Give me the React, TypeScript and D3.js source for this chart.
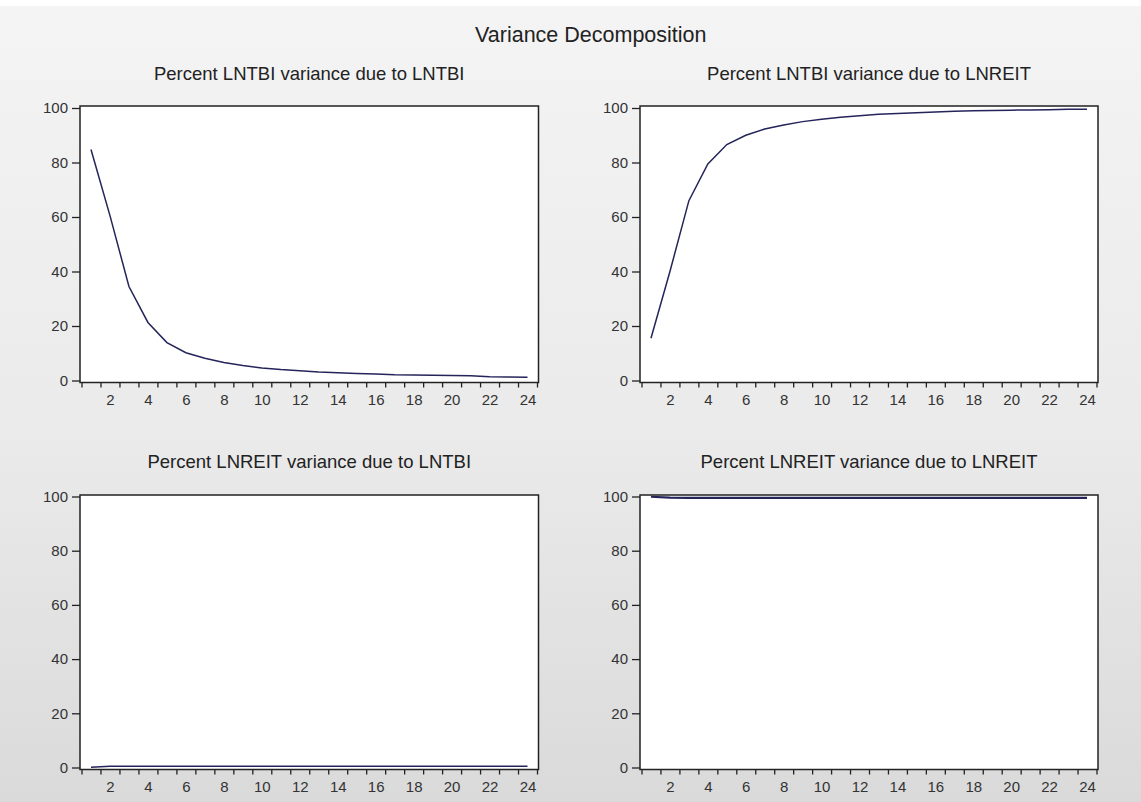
import { useEffect, useRef } from 'react';
import * as d3 from 'd3';

const W = 1141;
const H = 802;
const FONT = '"Liberation Sans", Arial, sans-serif';
const LINE_COLOR = '#24245a';

const periods = d3.range(1, 25);
const yTickValues = [0, 20, 40, 60, 80, 100];
const xLabelValues = [2, 4, 6, 8, 10, 12, 14, 16, 18, 20, 22, 24];

const tbiDueTbi = [84.8, 60.5, 34.5, 21.3, 13.9, 10.2, 8.2, 6.6, 5.5, 4.6, 4.0, 3.6, 3.1, 2.8, 2.6, 2.4, 2.1, 2.0, 1.9, 1.8, 1.7, 1.4, 1.3, 1.2];
const tbiDueReit = [15.5, 40.0, 66.0, 79.5, 86.6, 90.0, 92.3, 93.8, 95.0, 95.9, 96.6, 97.2, 97.7, 98.0, 98.3, 98.5, 98.8, 99.0, 99.1, 99.2, 99.3, 99.4, 99.5, 99.5];
const reitDueTbi = [0.1, 0.45, 0.5, 0.5, 0.5, 0.5, 0.5, 0.5, 0.5, 0.5, 0.5, 0.5, 0.5, 0.5, 0.5, 0.5, 0.5, 0.5, 0.5, 0.5, 0.5, 0.5, 0.5, 0.5];
const reitDueReit = [99.9, 99.55, 99.5, 99.5, 99.5, 99.5, 99.5, 99.5, 99.5, 99.5, 99.5, 99.5, 99.5, 99.5, 99.5, 99.5, 99.5, 99.5, 99.5, 99.5, 99.5, 99.5, 99.5, 99.5];

const panelTitles = [
  'Percent LNTBI variance due to LNTBI',
  'Percent LNTBI variance due to LNREIT',
  'Percent LNREIT variance due to LNTBI',
  'Percent LNREIT variance due to LNREIT',
];
const panelSeries = [tbiDueTbi, tbiDueReit, reitDueTbi, reitDueReit];

// frame boxes
const COLS = [
  { left: 80, right: 538.5 },
  { left: 640, right: 1098 },
];
const ROWS = [
  { top: 106, bottom: 382.5, y0: 380.5, y100: 108, titleY: 80 },
  { top: 495, bottom: 769.5, y0: 767.5, y100: 496.5, titleY: 468 },
];

export default function App() {
  const svgRef = useRef<SVGSVGElement>(null);

  useEffect(() => {
    const svg = d3.select(svgRef.current);
    svg.selectAll('*').remove();

    const defs = svg.append('defs');
    const grad = defs
      .append('linearGradient')
      .attr('id', 'bg')
      .attr('x1', 0).attr('y1', 0).attr('x2', 0).attr('y2', 1);
    grad.append('stop').attr('offset', '0%').attr('stop-color', '#f4f4f4');
    grad.append('stop').attr('offset', '55%').attr('stop-color', '#eaeaea');
    grad.append('stop').attr('offset', '100%').attr('stop-color', '#dadada');

    svg.append('rect').attr('width', W).attr('height', H).attr('fill', '#ffffff');
    svg.append('rect').attr('x', 0).attr('y', 6).attr('width', W).attr('height', H - 6).attr('fill', 'url(#bg)');

    svg
      .append('text')
      .attr('x', 706.5)
      .attr('y', 41.5)
      .attr('text-anchor', 'end')
      .attr('font-family', FONT)
      .attr('font-size', 21.5)
      .attr('fill', '#222')
      .text('Variance Decomposition');

    panelSeries.forEach((values, i) => {
      const col = COLS[i % 2];
      const row = ROWS[Math.floor(i / 2)];

      const x = d3.scaleLinear().domain([0.5, 24.5]).range([col.left + 1.5, col.right - 1.5]);
      const y = d3.scaleLinear().domain([0, 100]).range([row.y0, row.y100]);

      const g = svg.append('g');

      g.append('rect')
        .attr('x', col.left)
        .attr('y', row.top)
        .attr('width', col.right - col.left)
        .attr('height', row.bottom - row.top)
        .attr('fill', '#ffffff');

      g.append('text')
        .attr('x', (col.left + col.right) / 2)
        .attr('y', row.titleY)
        .attr('text-anchor', 'middle')
        .attr('font-family', FONT)
        .attr('font-size', 18.5)
        .attr('fill', '#222')
        .text(panelTitles[i]);

      // y axis
      const yAxis = d3
        .axisLeft(y)
        .tickValues(yTickValues)
        .tickSize(8)
        .tickSizeOuter(0)
        .tickPadding(4)
        .tickFormat((d) => String(d));
      const ya = g.append('g').attr('transform', `translate(${col.left},0)`).call(yAxis);
      ya.select('.domain').remove();
      ya.selectAll('line').attr('stroke', '#222').attr('stroke-width', 1.3);
      ya.selectAll('text').attr('font-family', FONT).attr('font-size', 15).attr('fill', '#333');

      // x axis: ticks at period boundaries, labels at even periods
      const xTicks = d3
        .axisBottom(x)
        .tickValues(d3.range(0.5, 25, 1))
        .tickSize(5)
        .tickSizeOuter(0)
        .tickFormat(() => '');
      const xa = g.append('g').attr('transform', `translate(0,${row.bottom})`).call(xTicks);
      xa.select('.domain').remove();
      xa.selectAll('line').attr('stroke', '#222').attr('stroke-width', 1.3);

      const xLabels = d3
        .axisBottom(x)
        .tickValues(xLabelValues)
        .tickSize(0)
        .tickPadding(12)
        .tickFormat((d) => String(d));
      const xl = g.append('g').attr('transform', `translate(0,${row.bottom})`).call(xLabels);
      xl.select('.domain').remove();
      xl.selectAll('text').attr('font-family', FONT).attr('font-size', 15).attr('fill', '#333');

      // frame
      g.append('rect')
        .attr('x', col.left)
        .attr('y', row.top)
        .attr('width', col.right - col.left)
        .attr('height', row.bottom - row.top)
        .attr('fill', 'none')
        .attr('stroke', '#222')
        .attr('stroke-width', 1.5);

      const line = d3
        .line<number>()
        .x((_, k) => x(periods[k]))
        .y((d) => y(d));

      g.append('path')
        .datum(values)
        .attr('d', line)
        .attr('fill', 'none')
        .attr('stroke', LINE_COLOR)
        .attr('stroke-width', i === 3 ? 2.2 : 1.5);
    });
  }, []);

  return (
    <svg
      ref={svgRef}
      width={W}
      height={H}
      style={{ position: 'fixed', left: 0, top: 0, display: 'block' }}
    />
  );
}
